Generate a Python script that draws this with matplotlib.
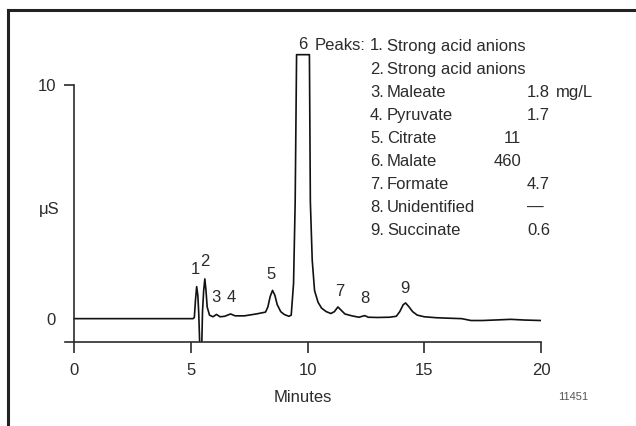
import matplotlib
matplotlib.use("Agg")
import matplotlib.pyplot as plt
from matplotlib.lines import Line2D

# chromatogram trace (minutes, uS)
minutes = [0.0, 5.1, 5.15, 5.2, 5.25, 5.3, 5.34, 5.38, 5.47, 5.5, 5.55, 5.6, 5.65, 5.7,
           5.8, 5.95, 6.1, 6.25, 6.45, 6.7, 6.9, 7.3, 7.8, 8.2, 8.3, 8.4, 8.5, 8.6,
           8.7, 8.85, 9.0, 9.2, 9.3, 9.4, 9.47, 9.53, 10.08, 10.12, 10.2, 10.3, 10.45,
           10.6, 10.8, 11.0, 11.15, 11.3, 11.45, 11.6, 11.9, 12.2, 12.45, 12.6, 13.0,
           13.5, 13.8, 13.95, 14.1, 14.2, 14.35, 14.5, 14.7, 15.0, 15.5, 16.0, 16.6,
           17.0, 17.5, 18.0, 18.7, 19.3, 20.0]
signal = [0.0, 0.0, 0.05, 0.8, 1.37, 1.0, 0.2, -1.05, -1.05, 0.3, 1.2, 1.7, 1.2, 0.5,
          0.15, 0.08, 0.18, 0.08, 0.1, 0.2, 0.12, 0.12, 0.2, 0.28, 0.5, 0.95, 1.21, 1.0,
          0.6, 0.3, 0.18, 0.1, 0.15, 1.5, 5.0, 11.3, 11.3, 5.0, 2.5, 1.2, 0.7,
          0.45, 0.3, 0.22, 0.3, 0.5, 0.35, 0.2, 0.12, 0.06, 0.13, 0.06, 0.05,
          0.06, 0.1, 0.3, 0.6, 0.67, 0.5, 0.3, 0.15, 0.08, 0.04, 0.02, 0.0,
          -0.08, -0.08, -0.06, -0.03, -0.06, -0.08]

# peak numbers and where they sit
peak_ids = ["1", "2", "3", "4", "5", "6", "7", "8", "9"]
peak_x = [5.18, 5.6, 6.08, 6.72, 8.44, 9.8, 11.4, 12.46, 14.18]
peak_y = [2.1, 2.45, 0.9, 0.9, 1.9, 11.75, 1.15, 0.85, 1.3]

names = ["Strong acid anions", "Strong acid anions", "Maleate", "Pyruvate",
         "Citrate", "Malate", "Formate", "Unidentified", "Succinate"]
amounts = ["", "", "1.8", "1.7", "11", "460", "4.7", "\u2014", "0.6"]
unit = "mg/L"

xticks = [0, 5, 10, 15, 20]
yticks = [0, 10]

ink = "#2b2b2b"
fs = 12
plt.rcParams['font.family'] = ['Liberation Sans', 'DejaVu Sans']

fig = plt.figure(figsize=(6.36, 4.26), dpi=100)
ax = fig.add_axes([65 / 636, 84 / 426, 476 / 636, 292 / 426])

ax.plot(minutes, signal, color="#111111", lw=1.2, solid_joinstyle="round")
ax.set_xlim(-0.39, 20)
ax.set_ylim(-1, 11.5)

for s in ["top", "right"]:
    ax.spines[s].set_visible(False)
ax.spines["left"].set_position(("data", 0))
ax.spines["left"].set_bounds(-1, 10)
ax.spines["bottom"].set_bounds(-0.39, 20)
for s in ["left", "bottom"]:
    ax.spines[s].set_color(ink)
    ax.spines[s].set_linewidth(1.2)

ax.set_xticks(xticks)
ax.set_yticks(yticks)
ax.set_yticklabels([str(v) for v in yticks])
ax.tick_params(axis="x", direction="out", length=8, width=1.2, color=ink,
               labelsize=fs, labelcolor=ink, pad=7)
ax.tick_params(axis="y", direction="out", length=7, width=1.2, color=ink,
               labelsize=fs, labelcolor=ink, pad=6)
ax.yaxis.get_major_ticks()[0].tick1line.set_visible(False)
ax.set_xlabel("Minutes", fontsize=fs, color=ink, labelpad=9)
ax.text(-1.05, 4.66, "\u03bcS", fontsize=fs, color=ink, ha="center", va="center")

for lab, px, py in zip(peak_ids, peak_x, peak_y):
    ax.text(px, py, lab, fontsize=fs, color=ink, ha="center", va="center")

# peak table
row0 = 46
dy = 23.1
fig.text(365 / 636, 1 - row0 / 426, "Peaks:", fontsize=fs, color=ink,
         va="center", ha="right")
for i, (nm, amt) in enumerate(zip(names, amounts)):
    yy = 1 - (row0 + i * dy) / 426
    fig.text(370 / 636, yy, f"{i + 1}.", fontsize=fs, color=ink, va="center")
    fig.text(387 / 636, yy, nm, fontsize=fs, color=ink, va="center")
    if not amt:
        continue
    if "." in amt or amt == "\u2014":
        fig.text(527 / 636, yy, amt, fontsize=fs, color=ink, va="center")
    else:
        fig.text(521 / 636, yy, amt, fontsize=fs, color=ink, va="center", ha="right")
    if i == 2:
        fig.text(556 / 636, yy, unit, fontsize=fs, color=ink, va="center")

fig.text(573 / 636, 1 - 397 / 426, "11451", fontsize=8, color="#555555",
         ha="center", va="center")

# frame lines along top and left
fig.add_artist(Line2D([7.5 / 636, 1], [1 - 10 / 426] * 2, color="#222222", lw=2.2))
fig.add_artist(Line2D([7.5 / 636] * 2, [0, 1 - 10 / 426], color="#222222", lw=2.2))

fig.savefig("out.png", dpi=100)
